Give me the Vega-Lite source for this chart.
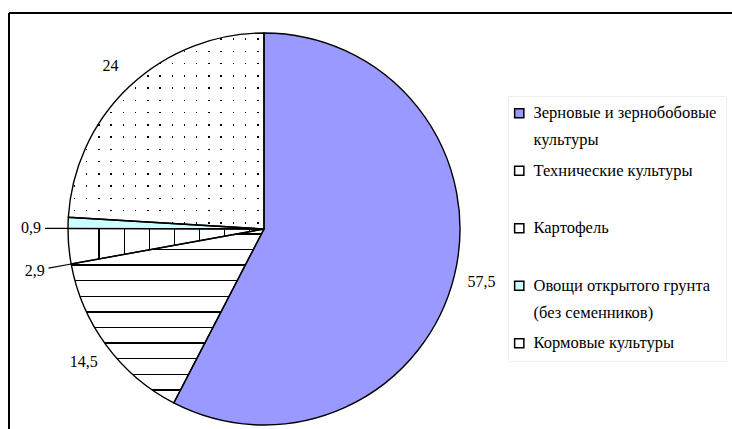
{
  "$schema": "https://vega.github.io/schema/vega-lite/v6.json",
  "width": 723,
  "height": 416,
  "autosize": "none",
  "padding": {"left": 9, "top": 13, "right": 0, "bottom": 0},
  "background": "white",
  "config": {
    "view": {"stroke": null},
    "locale": {"number": {"decimal": ",", "thousands": " ", "grouping": [3], "currency": ["", ""]}},
    "text": {"font": "Liberation Serif", "fontSize": 16, "color": "black"}
  },
  "data": {
    "values": [
      {"crop": "Зерновые и зернобобовые культуры", "value": 57.5, "idx": 1},
      {"crop": "Кормовые культуры", "value": 14.5, "idx": 2},
      {"crop": "Картофель", "value": 2.9, "idx": 3},
      {"crop": "Овощи открытого грунта (без семенников)", "value": 0.9, "idx": 4},
      {"crop": "Технические культуры", "value": 24, "idx": 5}
    ]
  },
  "transform": [
    {"stack": "value", "groupby": [], "sort": [{"field": "idx", "order": "ascending"}], "as": ["t0", "t1"]}
  ],
  "layer": [
    {
      "mark": {"type": "arc", "radius": 196, "x": 255, "y": 216, "stroke": null},
      "encoding": {
        "theta": {"field": "t0", "type": "quantitative", "scale": {"domain": [0, 99.8]}},
        "theta2": {"field": "t1"},
        "fill": {
          "field": "crop",
          "type": "nominal",
          "scale": {
            "domain": ["Зерновые и зернобобовые культуры", "Технические культуры", "Картофель", "Овощи открытого грунта (без семенников)", "Кормовые культуры"],
            "range": ["#9999ff", "#ffffff", "#ffffff", "#ccffff", "#ffffff"]
          },
          "legend": {
            "title": null,
            "orient": "none",
            "legendX": 499,
            "legendY": 83,
            "symbolType": "square",
            "symbolSize": 85,
            "symbolStrokeColor": "black",
            "symbolStrokeWidth": 1.5,
            "symbolOffset": -6,
            "labelFont": "Liberation Serif",
            "labelFontSize": 16.5,
            "labelColor": "black",
            "labelLimit": 400,
            "labelOffset": 6,
            "labelExpr": "datum.label === 'Зерновые и зернобобовые культуры' ? ['Зерновые и зернобобовые', 'культуры'] : datum.label === 'Овощи открытого грунта (без семенников)' ? ['Овощи открытого грунта', '(без семенников)'] : datum.label",
            "gridAlign": "all",
            "rowPadding": 13.5,
            "padding": 9,
            "strokeColor": "#eeeeee",
            "fillColor": "white",
            "encode": {"labels": {"update": {"lineHeight": {"value": 27}}}}
          }
        }
      }
    },
    {
      "mark": {"type": "arc", "radius": 196, "x": 255, "y": 216, "stroke": null},
      "encoding": {
        "theta": {"field": "t0", "type": "quantitative", "scale": {"domain": [0, 99.8]}},
        "theta2": {"field": "t1"},
        "fill": {
          "condition": [
            {"test": "datum.crop === 'Технические культуры'", "value": "#000000"},
            {"test": "datum.crop === 'Кормовые культуры'", "value": {
              "gradient": "linear", "x1": 0, "y1": 0, "x2": 0, "y2": 1,
              "stops": [
                {"offset": 0, "color": "#fff"},
                {"offset": 0.024, "color": "#fff"}, {"offset": 0.024, "color": "#000"}, {"offset": 0.032, "color": "#000"}, {"offset": 0.032, "color": "#fff"},
                {"offset": 0.114, "color": "#fff"}, {"offset": 0.114, "color": "#000"}, {"offset": 0.122, "color": "#000"}, {"offset": 0.122, "color": "#fff"},
                {"offset": 0.203, "color": "#fff"}, {"offset": 0.203, "color": "#000"}, {"offset": 0.211, "color": "#000"}, {"offset": 0.211, "color": "#fff"},
                {"offset": 0.293, "color": "#fff"}, {"offset": 0.293, "color": "#000"}, {"offset": 0.301, "color": "#000"}, {"offset": 0.301, "color": "#fff"},
                {"offset": 0.383, "color": "#fff"}, {"offset": 0.383, "color": "#000"}, {"offset": 0.391, "color": "#000"}, {"offset": 0.391, "color": "#fff"},
                {"offset": 0.472, "color": "#fff"}, {"offset": 0.472, "color": "#000"}, {"offset": 0.480, "color": "#000"}, {"offset": 0.480, "color": "#fff"},
                {"offset": 0.562, "color": "#fff"}, {"offset": 0.562, "color": "#000"}, {"offset": 0.570, "color": "#000"}, {"offset": 0.570, "color": "#fff"},
                {"offset": 0.652, "color": "#fff"}, {"offset": 0.652, "color": "#000"}, {"offset": 0.660, "color": "#000"}, {"offset": 0.660, "color": "#fff"},
                {"offset": 0.741, "color": "#fff"}, {"offset": 0.741, "color": "#000"}, {"offset": 0.749, "color": "#000"}, {"offset": 0.749, "color": "#fff"},
                {"offset": 0.831, "color": "#fff"}, {"offset": 0.831, "color": "#000"}, {"offset": 0.839, "color": "#000"}, {"offset": 0.839, "color": "#fff"},
                {"offset": 0.921, "color": "#fff"}, {"offset": 0.921, "color": "#000"}, {"offset": 0.929, "color": "#000"}, {"offset": 0.929, "color": "#fff"},
                {"offset": 1, "color": "#fff"}
              ]
            }},
            {"test": "datum.crop === 'Картофель'", "value": {
              "gradient": "linear", "x1": 0, "y1": 0, "x2": 1, "y2": 0,
              "stops": [
                {"offset": 0, "color": "#fff"},
                {"offset": 0.155, "color": "#fff"}, {"offset": 0.155, "color": "#000"}, {"offset": 0.161, "color": "#000"}, {"offset": 0.161, "color": "#fff"},
                {"offset": 0.284, "color": "#fff"}, {"offset": 0.284, "color": "#000"}, {"offset": 0.290, "color": "#000"}, {"offset": 0.290, "color": "#fff"},
                {"offset": 0.413, "color": "#fff"}, {"offset": 0.413, "color": "#000"}, {"offset": 0.419, "color": "#000"}, {"offset": 0.419, "color": "#fff"},
                {"offset": 0.541, "color": "#fff"}, {"offset": 0.541, "color": "#000"}, {"offset": 0.547, "color": "#000"}, {"offset": 0.547, "color": "#fff"},
                {"offset": 0.668, "color": "#fff"}, {"offset": 0.668, "color": "#000"}, {"offset": 0.674, "color": "#000"}, {"offset": 0.674, "color": "#fff"},
                {"offset": 0.796, "color": "#fff"}, {"offset": 0.796, "color": "#000"}, {"offset": 0.802, "color": "#000"}, {"offset": 0.802, "color": "#fff"},
                {"offset": 0.923, "color": "#fff"}, {"offset": 0.923, "color": "#000"}, {"offset": 0.929, "color": "#000"}, {"offset": 0.929, "color": "#fff"},
                {"offset": 1, "color": "#fff"}
              ]
            }}
          ],
          "value": null
        }
      }
    },
    {
      "mark": {"type": "arc", "radius": 196, "x": 255, "y": 216, "stroke": null},
      "encoding": {
        "theta": {"field": "t0", "type": "quantitative", "scale": {"domain": [0, 99.8]}},
        "theta2": {"field": "t1"},
        "fill": {
          "condition": {"test": "datum.crop === 'Технические культуры'", "value": {
            "gradient": "linear", "x1": 0, "y1": 0, "x2": 0, "y2": 1,
            "stops": [
              {"offset": 0, "color": "#fff"},
              {"offset": 0.0275, "color": "#fff"}, {"offset": 0.0275, "color": "transparent"}, {"offset": 0.035, "color": "transparent"}, {"offset": 0.035, "color": "#fff"},
              {"offset": 0.09, "color": "#fff"}, {"offset": 0.09, "color": "transparent"}, {"offset": 0.0975, "color": "transparent"}, {"offset": 0.0975, "color": "#fff"},
              {"offset": 0.1525, "color": "#fff"}, {"offset": 0.1525, "color": "transparent"}, {"offset": 0.16, "color": "transparent"}, {"offset": 0.16, "color": "#fff"},
              {"offset": 0.215, "color": "#fff"}, {"offset": 0.215, "color": "transparent"}, {"offset": 0.2225, "color": "transparent"}, {"offset": 0.2225, "color": "#fff"},
              {"offset": 0.2775, "color": "#fff"}, {"offset": 0.2775, "color": "transparent"}, {"offset": 0.285, "color": "transparent"}, {"offset": 0.285, "color": "#fff"},
              {"offset": 0.34, "color": "#fff"}, {"offset": 0.34, "color": "transparent"}, {"offset": 0.3475, "color": "transparent"}, {"offset": 0.3475, "color": "#fff"},
              {"offset": 0.4025, "color": "#fff"}, {"offset": 0.4025, "color": "transparent"}, {"offset": 0.41, "color": "transparent"}, {"offset": 0.41, "color": "#fff"},
              {"offset": 0.465, "color": "#fff"}, {"offset": 0.465, "color": "transparent"}, {"offset": 0.4725, "color": "transparent"}, {"offset": 0.4725, "color": "#fff"},
              {"offset": 0.5275, "color": "#fff"}, {"offset": 0.5275, "color": "transparent"}, {"offset": 0.535, "color": "transparent"}, {"offset": 0.535, "color": "#fff"},
              {"offset": 0.59, "color": "#fff"}, {"offset": 0.59, "color": "transparent"}, {"offset": 0.5975, "color": "transparent"}, {"offset": 0.5975, "color": "#fff"},
              {"offset": 0.6525, "color": "#fff"}, {"offset": 0.6525, "color": "transparent"}, {"offset": 0.66, "color": "transparent"}, {"offset": 0.66, "color": "#fff"},
              {"offset": 0.715, "color": "#fff"}, {"offset": 0.715, "color": "transparent"}, {"offset": 0.7225, "color": "transparent"}, {"offset": 0.7225, "color": "#fff"},
              {"offset": 0.7775, "color": "#fff"}, {"offset": 0.7775, "color": "transparent"}, {"offset": 0.785, "color": "transparent"}, {"offset": 0.785, "color": "#fff"},
              {"offset": 0.84, "color": "#fff"}, {"offset": 0.84, "color": "transparent"}, {"offset": 0.8475, "color": "transparent"}, {"offset": 0.8475, "color": "#fff"},
              {"offset": 0.9025, "color": "#fff"}, {"offset": 0.9025, "color": "transparent"}, {"offset": 0.91, "color": "transparent"}, {"offset": 0.91, "color": "#fff"},
              {"offset": 0.965, "color": "#fff"}, {"offset": 0.965, "color": "transparent"}, {"offset": 0.9725, "color": "transparent"}, {"offset": 0.9725, "color": "#fff"},
              {"offset": 1, "color": "#fff"}
            ]
          }},
          "value": null
        }
      }
    },
    {
      "mark": {"type": "arc", "radius": 196, "x": 255, "y": 216, "stroke": null},
      "encoding": {
        "theta": {"field": "t0", "type": "quantitative", "scale": {"domain": [0, 99.8]}},
        "theta2": {"field": "t1"},
        "fill": {
          "condition": {"test": "datum.crop === 'Технические культуры'", "value": {
            "gradient": "linear", "x1": 0, "y1": 0, "x2": 1, "y2": 0,
            "stops": [
              {"offset": 0, "color": "#fff"},
              {"offset": 0.0275, "color": "#fff"}, {"offset": 0.0275, "color": "transparent"}, {"offset": 0.035, "color": "transparent"}, {"offset": 0.035, "color": "#fff"},
              {"offset": 0.09, "color": "#fff"}, {"offset": 0.09, "color": "transparent"}, {"offset": 0.0975, "color": "transparent"}, {"offset": 0.0975, "color": "#fff"},
              {"offset": 0.1525, "color": "#fff"}, {"offset": 0.1525, "color": "transparent"}, {"offset": 0.16, "color": "transparent"}, {"offset": 0.16, "color": "#fff"},
              {"offset": 0.215, "color": "#fff"}, {"offset": 0.215, "color": "transparent"}, {"offset": 0.2225, "color": "transparent"}, {"offset": 0.2225, "color": "#fff"},
              {"offset": 0.2775, "color": "#fff"}, {"offset": 0.2775, "color": "transparent"}, {"offset": 0.285, "color": "transparent"}, {"offset": 0.285, "color": "#fff"},
              {"offset": 0.34, "color": "#fff"}, {"offset": 0.34, "color": "transparent"}, {"offset": 0.3475, "color": "transparent"}, {"offset": 0.3475, "color": "#fff"},
              {"offset": 0.4025, "color": "#fff"}, {"offset": 0.4025, "color": "transparent"}, {"offset": 0.41, "color": "transparent"}, {"offset": 0.41, "color": "#fff"},
              {"offset": 0.465, "color": "#fff"}, {"offset": 0.465, "color": "transparent"}, {"offset": 0.4725, "color": "transparent"}, {"offset": 0.4725, "color": "#fff"},
              {"offset": 0.5275, "color": "#fff"}, {"offset": 0.5275, "color": "transparent"}, {"offset": 0.535, "color": "transparent"}, {"offset": 0.535, "color": "#fff"},
              {"offset": 0.59, "color": "#fff"}, {"offset": 0.59, "color": "transparent"}, {"offset": 0.5975, "color": "transparent"}, {"offset": 0.5975, "color": "#fff"},
              {"offset": 0.6525, "color": "#fff"}, {"offset": 0.6525, "color": "transparent"}, {"offset": 0.66, "color": "transparent"}, {"offset": 0.66, "color": "#fff"},
              {"offset": 0.715, "color": "#fff"}, {"offset": 0.715, "color": "transparent"}, {"offset": 0.7225, "color": "transparent"}, {"offset": 0.7225, "color": "#fff"},
              {"offset": 0.7775, "color": "#fff"}, {"offset": 0.7775, "color": "transparent"}, {"offset": 0.785, "color": "transparent"}, {"offset": 0.785, "color": "#fff"},
              {"offset": 0.84, "color": "#fff"}, {"offset": 0.84, "color": "transparent"}, {"offset": 0.8475, "color": "transparent"}, {"offset": 0.8475, "color": "#fff"},
              {"offset": 0.9025, "color": "#fff"}, {"offset": 0.9025, "color": "transparent"}, {"offset": 0.91, "color": "transparent"}, {"offset": 0.91, "color": "#fff"},
              {"offset": 0.965, "color": "#fff"}, {"offset": 0.965, "color": "transparent"}, {"offset": 0.9725, "color": "transparent"}, {"offset": 0.9725, "color": "#fff"},
              {"offset": 1, "color": "#fff"}
            ]
          }},
          "value": null
        }
      }
    },
    {
      "mark": {"type": "arc", "radius": 196, "x": 255, "y": 216, "filled": false, "stroke": "black", "strokeWidth": 1.4},
      "encoding": {
        "theta": {"field": "t0", "type": "quantitative", "scale": {"domain": [0, 99.8]}},
        "theta2": {"field": "t1"}
      }
    },
    {
      "transform": [{"filter": "datum.value < 5"}],
      "mark": {"type": "arc", "radius": 219, "radius2": 196, "x": 255, "y": 216, "filled": false, "stroke": "black", "strokeWidth": 1.2},
      "encoding": {
        "theta": {"field": "t0", "type": "quantitative", "scale": {"domain": [0, 99.8]}},
        "theta2": {"field": "t0"}
      }
    },
    {
      "mark": {"type": "text", "radius": 224, "x": 255, "y": 216, "font": "Liberation Serif", "fontSize": 16, "color": "black"},
      "encoding": {
        "theta": {"field": "value", "type": "quantitative", "stack": true, "scale": {"domain": [0, 99.8]}},
        "order": {"field": "idx", "type": "quantitative"},
        "text": {"condition": {"test": "datum.value < 5", "value": ""}, "field": "value", "type": "quantitative", "format": ".1~f"}
      }
    },
    {
      "transform": [{"filter": "datum.value < 5"}],
      "mark": {"type": "text", "radius": 233, "x": 255, "y": 216, "font": "Liberation Serif", "fontSize": 16, "color": "black"},
      "encoding": {
        "theta": {"field": "t0", "type": "quantitative", "scale": {"domain": [0, 99.8]}},
        "text": {"field": "value", "type": "quantitative", "format": ".1~f"}
      }
    },
    {
      "data": {"values": [{"edge": "top"}]},
      "mark": {"type": "rule", "color": "black", "strokeWidth": 2},
      "encoding": {"x": {"value": 0}, "x2": {"value": "width"}, "y": {"value": 0}}
    },
    {
      "data": {"values": [{"edge": "left"}]},
      "mark": {"type": "rule", "color": "black", "strokeWidth": 2},
      "encoding": {"x": {"value": 0}, "y": {"value": 0}, "y2": {"value": "height"}}
    }
  ]
}
